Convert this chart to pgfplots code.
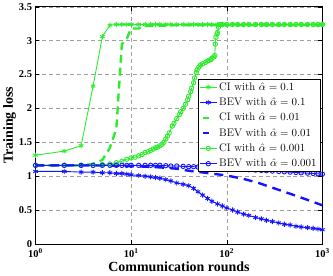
\documentclass[border=0pt]{standalone}
\usepackage{fontspec}
\usepackage{pgfplots}
\pgfplotsset{compat=1.18}
\newfontfamily\tnr{Liberation Serif}
\definecolor{mg}{RGB}{45,235,45}
\definecolor{mb}{RGB}{20,20,255}
\pgfplotsset{shortleg/.style={legend image code/.code={\draw[##1, solid] (0.12cm,0cm) -- (0.32cm,0cm);}}}
\begin{document}
\begin{tikzpicture}
\begin{axis}[
  scale only axis, width=288pt, height=238pt,
  xmode=log, log basis x=10,
  xmin=1, xmax=1000, ymin=0, ymax=3.5,
  xtick={1,10,100,1000},
  xticklabels={10\textsuperscript{0},10\textsuperscript{1},10\textsuperscript{2},10\textsuperscript{3}},
  ytick={0,0.5,1,1.5,2,2.5,3,3.5},
  yticklabels={0,0.5,1,1.5,2,2.5,3,3.5},
  ticklabel style={font=\tnr\bfseries\fontsize{10.5}{12}\selectfont},
  xticklabel style={yshift=-1pt},
  xlabel={Communication rounds}, ylabel={Training loss},
  label style={font=\tnr\bfseries\fontsize{14}{16}\selectfont},
  xlabel style={yshift=2pt}, ylabel style={yshift=-4pt},
  xmajorgrids, ymajorgrids, xminorgrids,
  major grid style={gray!75, dash pattern=on 4pt off 3pt, line width=0.5pt},
  minor grid style={gray!55, dotted, line width=0.5pt},
  tick align=inside, xtick pos=both, ytick pos=both,
  major tick length=4pt, minor tick length=2pt,
  axis line style={black, line width=0.8pt},
  every tick/.style={black, line width=0.5pt},
  legend style={at={(rel axis cs:0.993,0.697)}, anchor=north east, draw=black, line width=0.6pt, fill=white,
    font=\fontsize{11}{12.5}\selectfont, inner sep=1.5pt, row sep=2.2pt, cells={anchor=west}},
  legend cell align=left,
]
% CI alpha 0.1
\addplot[mg, line width=0.9pt, mark=asterisk, mark size=2.6pt] coordinates {
(1,1.31)(2,1.37)(3,1.45)(4,2.33)(5,3.06)(6,3.23)(7,3.24)(8,3.24)(9,3.24)(10,3.24)(12,3.24)(14,3.24)(16,3.24)(18,3.24)(20,3.24)(23,3.24)(26,3.24)(30,3.24)(35,3.24)(40,3.24)(45,3.24)(50,3.24)(56,3.24)(63,3.24)(70,3.24)(80,3.24)(90,3.24)(100,3.24)(115,3.24)(130,3.24)(150,3.24)(170,3.24)(200,3.24)(230,3.24)(260,3.24)(300,3.24)(350,3.24)(400,3.24)(460,3.24)(530,3.24)(600,3.24)(700,3.24)(800,3.24)(900,3.24)(1000,3.24)};
\addlegendentry{CI with $\hat{\alpha}=0.1$}
% BEV alpha 0.1
\addplot[mb, line width=0.9pt, mark=asterisk, mark size=2.6pt] coordinates {
(1,1.07)(2,1.07)(3,1.06)(4,1.06)(5,1.05)(6,1.05)(7,1.04)(8,1.04)(9,1.03)(10,1.02)(12,1.01)(14,1.00)(16,0.99)(18,0.98)(20,0.97)(23,0.95)(26,0.93)(30,0.90)(35,0.88)(40,0.86)(45,0.82)(50,0.77)(56,0.72)(63,0.67)(70,0.63)(80,0.59)(90,0.56)(100,0.53)(115,0.50)(130,0.47)(150,0.44)(170,0.42)(200,0.39)(230,0.37)(260,0.35)(300,0.33)(350,0.31)(400,0.29)(460,0.28)(530,0.26)(600,0.25)(700,0.24)(800,0.23)(900,0.22)(1000,0.21)};
\addlegendentry{BEV with $\hat{\alpha}=0.1$}
% CI alpha 0.01
\addplot[mg, line width=2.4pt, dash pattern=on 8pt off 5pt, shortleg] coordinates {
(1,1.16)(2,1.16)(3,1.16)(4,1.18)(5,1.24)(6,1.42)(7,1.70)(8,2.95)(9,3.03)(10,3.18)(12,3.18)(13,3.21)(15,3.22)(20,3.22)(30,3.23)(50,3.23)(100,3.23)(200,3.23)(500,3.23)(1000,3.23)};
\addlegendentry{CI with $\hat{\alpha}=0.01$}
% BEV alpha 0.01
\addplot[mb, line width=2.4pt, dash pattern=on 9pt off 6pt, shortleg] coordinates {
(1,1.16)(2,1.16)(5,1.16)(10,1.15)(20,1.13)(30,1.11)(40,1.08)(60,1.05)(100,1.01)(150,0.96)(215,0.90)(300,0.83)(440,0.75)(700,0.65)(1000,0.57)};
\addlegendentry{BEV with $\hat{\alpha}=0.01$}
% CI alpha 0.001
\addplot[mg, line width=0.9pt, mark=o, mark size=2.2pt] coordinates {
(1,1.16)(2,1.16)(3,1.16)(4,1.16)(5,1.17)(6,1.18)(7,1.20)(8,1.22)(9,1.25)(10,1.27)(11,1.28)(12,1.30)(13,1.32)(14,1.35)(15,1.36)(16,1.38)(17,1.40)(18,1.42)(19,1.43)(20,1.45)(21,1.47)(22,1.50)(23,1.55)(24,1.59)(25,1.64)(27,1.74)(28,1.78)(30,1.85)(32,1.91)(33,1.95)(35,2.00)(37,2.06)(39,2.13)(40,2.18)(42,2.25)(43,2.30)(45,2.38)(46,2.45)(48,2.53)(49,2.57)(51,2.61)(53,2.64)(56,2.66)(60,2.68)(63,2.70)(65,2.71)(68,2.72)(70,2.74)(73,2.76)(75,2.78)(76,2.95)(77,3.05)(79,3.10)(80,3.12)(82,3.20)(85,3.24)(90,3.24)(100,3.24)(115,3.24)(130,3.24)(150,3.24)(170,3.24)(200,3.24)(230,3.24)(260,3.24)(300,3.24)(350,3.24)(400,3.24)(460,3.24)(530,3.24)(600,3.24)(700,3.24)(800,3.24)(900,3.24)(1000,3.24)};
\addlegendentry{CI with $\hat{\alpha}=0.001$}
% BEV alpha 0.001
\addplot[mb, line width=0.9pt, mark=o, mark size=2.2pt] coordinates {
(1,1.16)(2,1.16)(3,1.16)(4,1.16)(5,1.16)(6,1.16)(7,1.16)(8,1.16)(9,1.16)(10,1.16)(12,1.16)(14,1.16)(16,1.16)(18,1.16)(20,1.16)(23,1.155)(26,1.15)(30,1.15)(35,1.145)(40,1.14)(45,1.14)(50,1.135)(56,1.13)(63,1.13)(70,1.125)(80,1.12)(90,1.115)(100,1.11)(115,1.105)(130,1.10)(150,1.10)(170,1.095)(200,1.09)(230,1.085)(260,1.08)(300,1.075)(350,1.07)(400,1.065)(460,1.06)(530,1.055)(600,1.05)(700,1.045)(800,1.04)(900,1.035)(1000,1.03)};
\addlegendentry{BEV with $\hat{\alpha}=0.001$}
\end{axis}
\end{tikzpicture}
\end{document}
